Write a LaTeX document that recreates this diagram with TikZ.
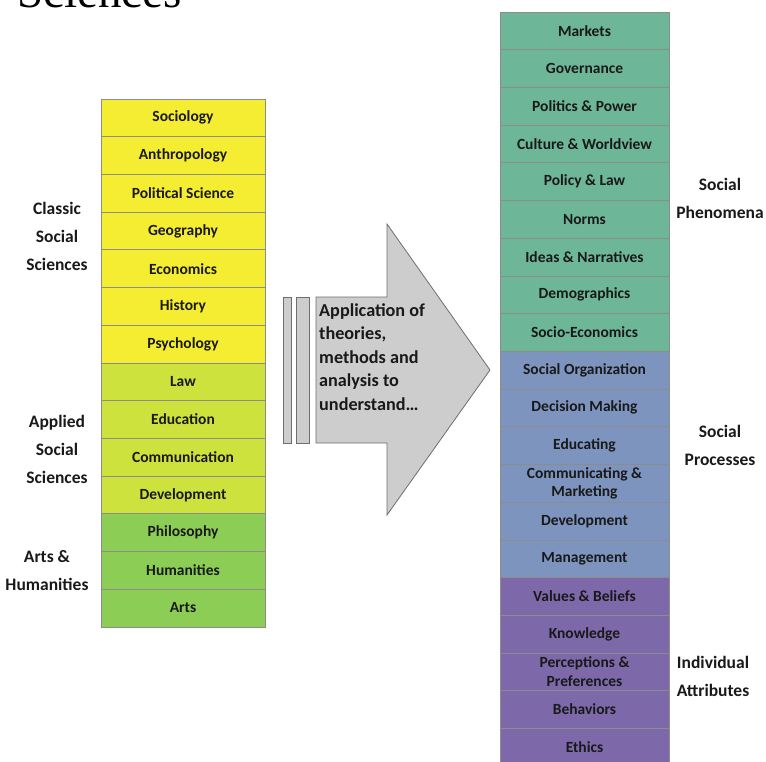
\documentclass[tikz,border=0pt]{standalone}
\usepackage{fontspec}
\setmainfont{Carlito}
\newfontfamily\titlefont{Liberation Serif}
\usetikzlibrary{positioning}

\definecolor{classic}{RGB}{245,237,50}
\definecolor{applied}{RGB}{205,226,60}
\definecolor{arts}{RGB}{140,205,85}
\definecolor{phenom}{RGB}{110,182,152}
\definecolor{process}{RGB}{125,148,190}
\definecolor{attrib}{RGB}{125,104,170}
\definecolor{boxline}{RGB}{140,140,140}
\definecolor{ink}{RGB}{25,25,25}
\definecolor{arrowfill}{RGB}{205,205,205}
\definecolor{arrowline}{RGB}{110,110,110}

\tikzset{
	field/.style={rectangle,draw=boxline,line width=0.6pt,outer sep=0pt,inner sep=0pt,
		minimum height=37.7pt,align=center,text=ink,
		font=\bfseries\fontsize{15.5}{18.5}\selectfont},
	leftfield/.style={field,minimum width=164pt},
	rightfield/.style={field,minimum width=169pt},
	grouplabel/.style={align=center,text=ink,inner sep=0pt,
		font=\bfseries\fontsize{17.5}{28}\selectfont},
	arrowpart/.style={fill=arrowfill,draw=arrowline,line width=0.8pt,line join=miter}
}

\begin{document}
\begin{tikzpicture}[x=1pt,y=-1pt]
	\useasboundingbox (0,0) rectangle (766,762);
	\clip (0,0) rectangle (766,762);

	%title remnant
	\node[anchor=base west,inner sep=0pt,font=\titlefont\fontsize{47}{50}\selectfont] (title) at (17,7.5) {Sciences};

	%left column
	\node[leftfield,fill=classic,anchor=north] (soc) at (183,99) {Sociology};
	\node[leftfield,fill=classic,below=0pt of soc] (ant) {Anthropology};
	\node[leftfield,fill=classic,below=0pt of ant] (pol) {Political Science};
	\node[leftfield,fill=classic,below=0pt of pol] (geo) {Geography};
	\node[leftfield,fill=classic,below=0pt of geo] (eco) {Economics};
	\node[leftfield,fill=classic,below=0pt of eco] (his) {History};
	\node[leftfield,fill=classic,below=0pt of his] (psy) {Psychology};
	\node[leftfield,fill=applied,below=0pt of psy] (law) {Law};
	\node[leftfield,fill=applied,below=0pt of law] (edu) {Education};
	\node[leftfield,fill=applied,below=0pt of edu] (com) {Communication};
	\node[leftfield,fill=applied,below=0pt of com] (dev) {Development};
	\node[leftfield,fill=arts,below=0pt of dev] (phi) {Philosophy};
	\node[leftfield,fill=arts,below=0pt of phi] (hum) {Humanities};
	\node[leftfield,fill=arts,below=0pt of hum] (art) {Arts};

	%left labels
	\node[grouplabel] (classiclbl) at (57,236) {Classic\\Social\\Sciences};
	\node[grouplabel] (appliedlbl) at (57,449) {Applied\\Social\\Sciences};
	\node[grouplabel] (artslbl) at (47,571) {Arts \&\\Humanities};

	%arrow
	\draw[arrowpart] (283,297) rectangle (291,443);
	\draw[arrowpart] (296,297) rectangle (309,443);
	\draw[arrowpart] (316,297) -- (387,297) -- (387,224) -- (490,370)
		-- (387,515) -- (387,443) -- (316,443) -- cycle;
	\node[anchor=west,align=left,text=ink,inner sep=0pt,
		font=\bfseries\fontsize{18.2}{23.4}\selectfont] (apply) at (319,357)
		{Application of\\theories,\\methods and\\analysis to\\understand…};

	%right column
	\node[rightfield,fill=phenom,anchor=north] (mkt) at (584.5,12) {Markets};
	\node[rightfield,fill=phenom,below=0pt of mkt] (gov) {Governance};
	\node[rightfield,fill=phenom,below=0pt of gov] (pow) {Politics \& Power};
	\node[rightfield,fill=phenom,below=0pt of pow] (cul) {Culture \& Worldview};
	\node[rightfield,fill=phenom,below=0pt of cul] (pla) {Policy \& Law};
	\node[rightfield,fill=phenom,below=0pt of pla] (nor) {Norms};
	\node[rightfield,fill=phenom,below=0pt of nor] (ide) {Ideas \& Narratives};
	\node[rightfield,fill=phenom,below=0pt of ide] (dem) {Demographics};
	\node[rightfield,fill=phenom,below=0pt of dem] (sec) {Socio-Economics};
	\node[rightfield,fill=process,below=0pt of sec] (org) {Social Organization};
	\node[rightfield,fill=process,below=0pt of org] (dec) {Decision Making};
	\node[rightfield,fill=process,below=0pt of dec] (edc) {Educating};
	\node[rightfield,fill=process,below=0pt of edc] (cmk) {Communicating \&\\Marketing};
	\node[rightfield,fill=process,below=0pt of cmk] (dvp) {Development};
	\node[rightfield,fill=process,below=0pt of dvp] (mgt) {Management};
	\node[rightfield,fill=attrib,below=0pt of mgt] (val) {Values \& Beliefs};
	\node[rightfield,fill=attrib,below=0pt of val] (kno) {Knowledge};
	\node[rightfield,fill=attrib,below=0pt of kno] (per) {Perceptions \&\\Preferences};
	\node[rightfield,fill=attrib,below=0pt of per] (beh) {Behaviors};
	\node[rightfield,fill=attrib,below=0pt of beh] (eth) {Ethics};

	%right labels
	\node[grouplabel] (phenomlbl) at (720,198) {Social\\Phenomena};
	\node[grouplabel] (processlbl) at (720,445) {Social\\Processes};
	\node[grouplabel] (attriblbl) at (713,676) {Individual\\Attributes};
\end{tikzpicture}
\end{document}
